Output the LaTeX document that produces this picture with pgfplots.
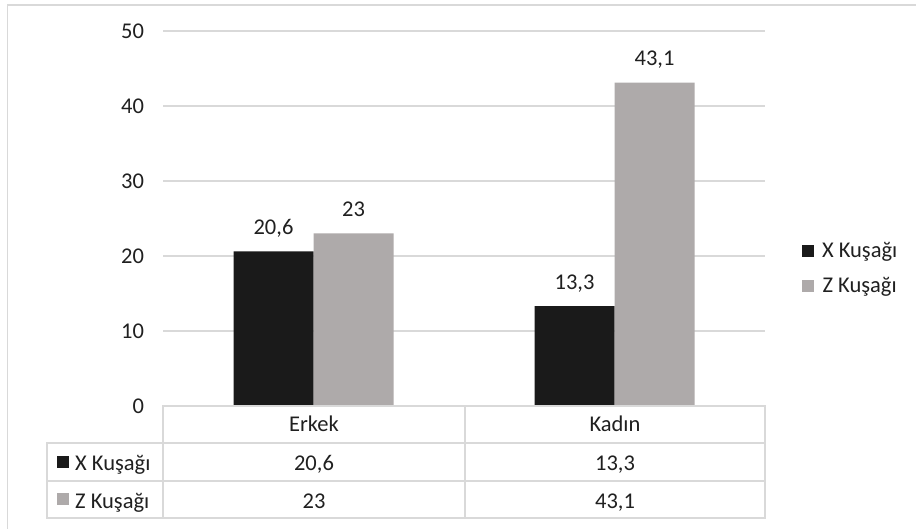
\documentclass[border=0pt]{standalone}
\usepackage{pgfplots}
\pgfplotsset{compat=1.18}
\usepackage{fontspec}
\setmainfont{Carlito}
\definecolor{xk}{HTML}{1A1A1A}
\definecolor{zk}{HTML}{AEAAAA}
\definecolor{ln}{HTML}{D9D9D9}
\definecolor{tx}{HTML}{202020}
\newcommand{\fs}{\fontsize{22.5}{27}\selectfont}
\begin{document}
\begin{tikzpicture}[font=\fs, text=tx]
\useasboundingbox (0,0) rectangle (916pt,528pt);
\fill[white] (0,0) rectangle (916pt,528pt);
\draw[ln, line width=1.5pt] (7.5pt,-5pt) -- (7.5pt,523pt) -- (925pt,523pt);
\begin{axis}[
  at={(163pt,122pt)}, anchor=south west,
  scale only axis, width=602pt, height=375pt,
  ymin=0, ymax=50, ytick={0,10,20,30,40,50},
  xmin=-0.5, xmax=1.5, xtick=\empty,
  ybar=0pt, bar width=80pt,
  axis line style={draw=none}, major tick length=0pt,
  ymajorgrids, grid style={ln, line width=1.2pt},
  yticklabel style={xshift=-15.5pt, text=tx, font=\fs},
  /pgf/number format/assume math mode=true,
  /pgf/number format/use comma,
  nodes near coords,
  every node near coord/.append style={anchor=base, yshift=17pt, text=tx, font=\fs},
  clip=false,
  legend style={at={(axis description cs:1.0615,0.3667)}, anchor=west,
    draw=none, fill=none, inner sep=0pt, outer sep=0pt, row sep=18pt,
    font=\fs, text=tx,
    nodes={inner sep=0pt},
    /tikz/every odd column/.append style={column sep=8pt}},
  legend image code/.code={\fill[#1] (0pt,-6pt) rectangle (12pt,6pt);},
]
\addplot[fill=xk, draw=none] coordinates {(0,20.6) (1,13.3)};
\addplot[fill=zk, draw=none] coordinates {(0,23) (1,43.1)};
\legend{X Kuşağı, Z Kuşağı}
\end{axis}
% data table
\draw[ln, line width=1.5pt] (163pt,122pt) -- (765pt,122pt) -- (765pt,10pt) -- (47pt,10pt) -- (47pt,85pt) -- (163pt,85pt) -- cycle;
\draw[ln, line width=1.5pt] (47pt,85pt) -- (765pt,85pt);
\draw[ln, line width=1.5pt] (47pt,47pt) -- (765pt,47pt);
\draw[ln, line width=1.5pt] (163pt,122pt) -- (163pt,10pt);
\draw[ln, line width=1.5pt] (465pt,122pt) -- (465pt,10pt);
\node[anchor=base, inner sep=0pt] at (314pt,96pt) {Erkek};
\node[anchor=base, inner sep=0pt] at (615pt,96pt) {Kadın};
\fill[xk] (57pt,60pt) rectangle (69pt,72pt);
\fill[zk] (57pt,23pt) rectangle (69pt,35pt);
\node[anchor=base west, inner sep=0pt] at (75pt,58pt) {X Kuşağı};
\node[anchor=base west, inner sep=0pt] at (75pt,20pt) {Z Kuşağı};
\node[anchor=base, inner sep=0pt] at (314pt,58pt) {20,6};
\node[anchor=base, inner sep=0pt] at (615pt,58pt) {13,3};
\node[anchor=base, inner sep=0pt] at (314pt,20pt) {23};
\node[anchor=base, inner sep=0pt] at (615pt,20pt) {43,1};
\end{tikzpicture}
\end{document}
